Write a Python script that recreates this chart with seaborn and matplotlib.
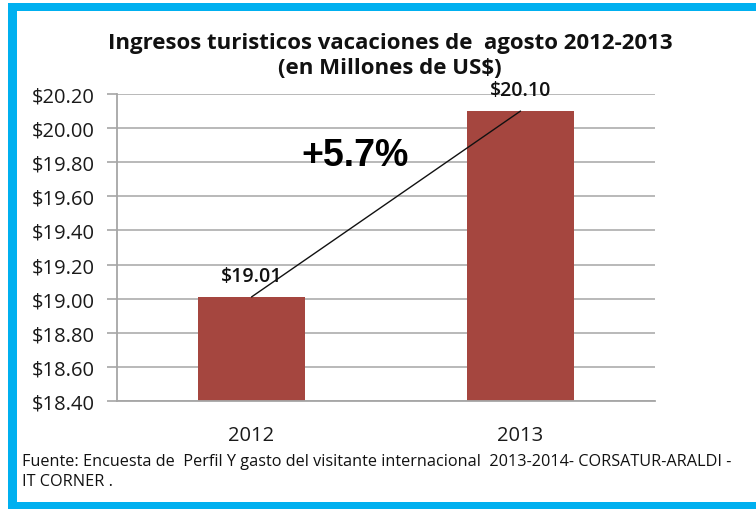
import numpy as np
import matplotlib
matplotlib.use("Agg")
import matplotlib.pyplot as plt
import matplotlib.patches as mpatches
import pandas as pd
import seaborn as sns

# data
years = ["2012", "2013"]
ingresos = [19.01, 20.10]
value_labels = ["$19.01", "$20.10"]
growth_label = "+5.7%"
y_ticks = [18.40, 18.60, 18.80, 19.00, 19.20, 19.40, 19.60, 19.80, 20.00, 20.20]

title = "Ingresos turisticos vacaciones de  agosto 2012-2013\n(en Millones de US$)"
fuente = ("Fuente: Encuesta de  Perfil Y gasto del visitante internacional  2013-2014- CORSATUR-ARALDI -\n"
          "IT CORNER .")

df = pd.DataFrame({"anio": years, "ingresos": ingresos})

sns.set_style("white")
plt.rcParams['font.family'] = ['Open Sans', 'DejaVu Sans']

W, H = 756, 510
fig = plt.figure(figsize=(W / 100, H / 100), dpi=100)
ax = fig.add_axes([117 / W, 1 - 402 / H, (655 - 117) / W, (402 - 95) / H])

bar_color = "#A5463F"
sns.barplot(data=df, x="anio", y="ingresos", color=bar_color, width=0.4,
            saturation=1, ax=ax, zorder=2)
for p in ax.patches:
    p.set_edgecolor("none")

ax.set_ylim(18.40, 20.20)
ax.set_xlim(-0.5, 1.5)
ax.set_yticks(y_ticks)
ax.set_yticklabels([f"${v:.2f}" for v in y_ticks], fontsize=14.5, color="#1a1a1a")
ax.set_xticks(range(len(years)))
ax.set_xticklabels(years, fontsize=14.5, color="#1a1a1a")
ax.set_xlabel("")
ax.set_ylabel("")

ax.yaxis.grid(True, color="#b3b3b3", linewidth=1.3, zorder=0)
ax.set_axisbelow(True)
for s in ["top", "right"]:
    ax.spines[s].set_visible(False)
for s in ["left", "bottom"]:
    ax.spines[s].set_color("#a6a6a6")
    ax.spines[s].set_linewidth(1.3)
ax.tick_params(axis="y", which="major", left=True, length=7, width=1.2,
               color="#a6a6a6", pad=9)
ax.tick_params(axis="x", bottom=False, pad=14)

# trend line between bar tops
ax.plot([0, 1], ingresos, color="#111111", linewidth=1, zorder=3)

# value labels
for i, (v, lab) in enumerate(zip(ingresos, value_labels)):
    ax.text(i, v + 0.065, lab, ha="center", va="bottom", fontsize=14,
            fontweight="semibold", color="#111111", zorder=4)

ax.text(0.385, 19.84, growth_label, ha="center", va="center", fontsize=27,
        fontweight="heavy", family="Liberation Sans", color="black", zorder=4)

fig.text(390 / W, 1 - 56 / H, title, ha="center", va="center", fontsize=16,
         fontweight="bold", color="#111111", linespacing=1.2)

fig.text(22 / W, 1 - 472 / H, fuente, ha="left", va="center", fontsize=11.7,
         color="#111111", linespacing=1.3)

# blue frame
blue = "#00B0F0"
fig.patches.append(mpatches.Rectangle((8 / W, 1 - 12 / H), 1, 8 / H, transform=fig.transFigure,
                                      facecolor=blue, edgecolor="none", figure=fig))
fig.patches.append(mpatches.Rectangle((8 / W, 0), 9 / W, 1 - 4 / H, transform=fig.transFigure,
                                      facecolor=blue, edgecolor="none", figure=fig))
fig.patches.append(mpatches.Rectangle((8 / W, 0), 1, 7 / H, transform=fig.transFigure,
                                      facecolor=blue, edgecolor="none", figure=fig))

fig.savefig("out.png", dpi=100, facecolor="white")
